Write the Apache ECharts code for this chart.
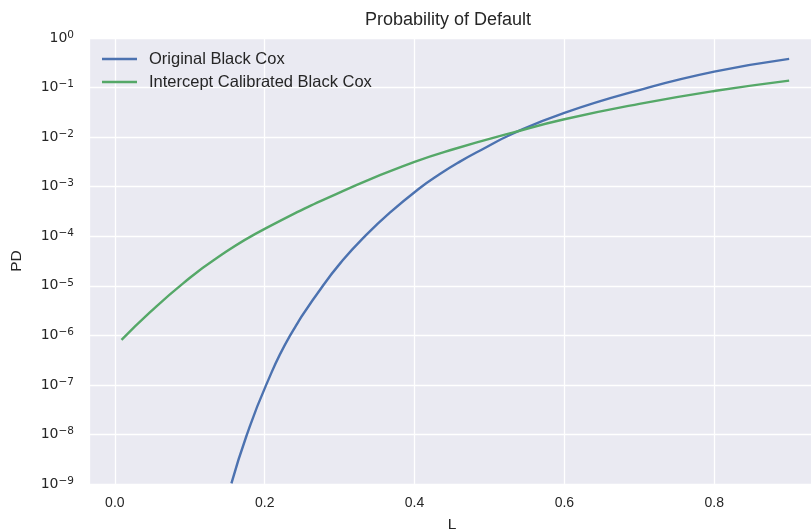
<!DOCTYPE html>
<html>
<head>
<meta charset="utf-8">
<style>
  html, body { margin: 0; padding: 0; background: #ffffff; }
  #chart { width: 811px; height: 531px; }
</style>
<script src="https://cdn.jsdelivr.net/npm/echarts@6/dist/echarts.min.js"></script>
</head>
<body>
<div id="chart"></div>
<script>
// Leverage L and probability of default for the two Black-Cox variants
const seriesNames = ['Original Black Cox', 'Intercept Calibrated Black Cox'];

const lOriginal = [0.1556, 0.1756, 0.202, 0.234, 0.2777, 0.3044, 0.3333, 0.3667, 0.4067, 0.4333, 0.46, 0.4889, 0.531, 0.6, 0.7, 0.8, 0.9];
const pdOriginal = [1.03e-9, 9.3e-9, 1e-7, 1e-6, 1e-5, 3.3e-5, 9.8e-5, 2.95e-4, 9.3e-4, 1.78e-3, 3.16e-3, 5.5e-3, 1.17e-2, 3.09e-2, 8.9e-2, 0.209, 0.38];

const lCalibrated = [0.0089, 0.0467, 0.0911, 0.1356, 0.2, 0.3222, 0.4, 0.453, 0.531, 0.6, 0.7, 0.8, 0.9];
const pdCalibrated = [8.1e-7, 2.9e-6, 1.12e-5, 3.6e-5, 1.41e-4, 1.07e-3, 3.16e-3, 5.75e-3, 1.23e-2, 2.29e-2, 4.68e-2, 8.5e-2, 0.138];

const xTickLabels = ['0.0', '0.2', '0.4', '0.6', '0.8'];

const pairs = (xs, ys) => xs.map((x, i) => [x, ys[i]]);

const textColor = '#262626';
const sansFont = '"Liberation Sans", Arial, sans-serif';
const mathFont = '"DejaVu Sans", sans-serif';

const chart = echarts.init(document.getElementById('chart'), null, { renderer: 'canvas' });

chart.setOption({
  backgroundColor: '#ffffff',
  animation: false,
  color: ['#4C72B0', '#55A868'],
  title: {
    text: 'Probability of Default',
    left: 443,
    textAlign: 'center',
    top: 6,
    textStyle: { fontFamily: sansFont, fontSize: 18, fontWeight: 'normal', color: textColor }
  },
  legend: {
    data: seriesNames,
    orient: 'vertical',
    left: 102,
    top: 50.5,
    padding: 0,
    itemGap: 6,
    itemWidth: 35,
    itemHeight: 2.5,
    icon: 'rect',
    textStyle: { fontFamily: sansFont, fontSize: 16.5, color: textColor, padding: [0, 0, 0, 7] }
  },
  grid: {
    left: 89, right: -4, top: 38, bottom: 47,
    outerBoundsMode: 'none',
    containLabel: false,
    show: true, backgroundColor: '#EAEAF2', borderWidth: 0
  },
  xAxis: {
    type: 'value',
    min: -0.0345,
    max: 0.9345,
    splitNumber: 5,
    name: 'L',
    nameLocation: 'middle',
    nameGap: 33,
    nameTextStyle: { fontFamily: sansFont, fontSize: 15.5, color: textColor },
    axisLine: { show: false },
    axisTick: { show: false },
    splitLine: { show: true, lineStyle: { color: '#ffffff', width: 1.3 } },
    axisLabel: {
      margin: 12,
      showMinLabel: false,
      showMaxLabel: false,
      fontFamily: sansFont,
      fontSize: 14,
      color: textColor,
      formatter: function (v) {
        const idx = Math.round(v / 0.2);
        if (Math.abs(v - idx * 0.2) > 1e-6) return '';
        return xTickLabels[idx] || '';
      }
    }
  },
  yAxis: {
    type: 'log',
    logBase: 10,
    min: 1e-9,
    max: 1,
    interval: 1,
    name: 'PD',
    nameLocation: 'middle',
    nameGap: 64,
    nameRotate: 90,
    nameTextStyle: { fontFamily: sansFont, fontSize: 15.5, color: textColor },
    axisLine: { show: false },
    axisTick: { show: false },
    splitLine: { show: true, lineStyle: { color: '#ffffff', width: 1.3 } },
    axisLabel: {
      margin: 15,
      color: textColor,
      formatter: function (v) {
        const e = Math.round(Math.log10(v));
        const exp = e < 0 ? '\u2212' + (-e) : String(e);
        return '{b|10}{e|' + exp + '}';
      },
      rich: {
        b: { fontFamily: mathFont, fontSize: 14, color: textColor, lineHeight: 17, verticalAlign: 'middle' },
        e: { fontFamily: mathFont, fontSize: 10.5, color: textColor, lineHeight: 11, verticalAlign: 'top' }
      }
    }
  },
  series: [
    {
      name: seriesNames[0],
      type: 'line',
      data: pairs(lOriginal, pdOriginal),
      smooth: 0.5,
      symbol: 'none',
      clip: true,
      lineStyle: { width: 2.4 }
    },
    {
      name: seriesNames[1],
      type: 'line',
      data: pairs(lCalibrated, pdCalibrated),
      smooth: 0.5,
      symbol: 'none',
      clip: true,
      lineStyle: { width: 2.4 }
    }
  ]
});
</script>
</body>
</html>
